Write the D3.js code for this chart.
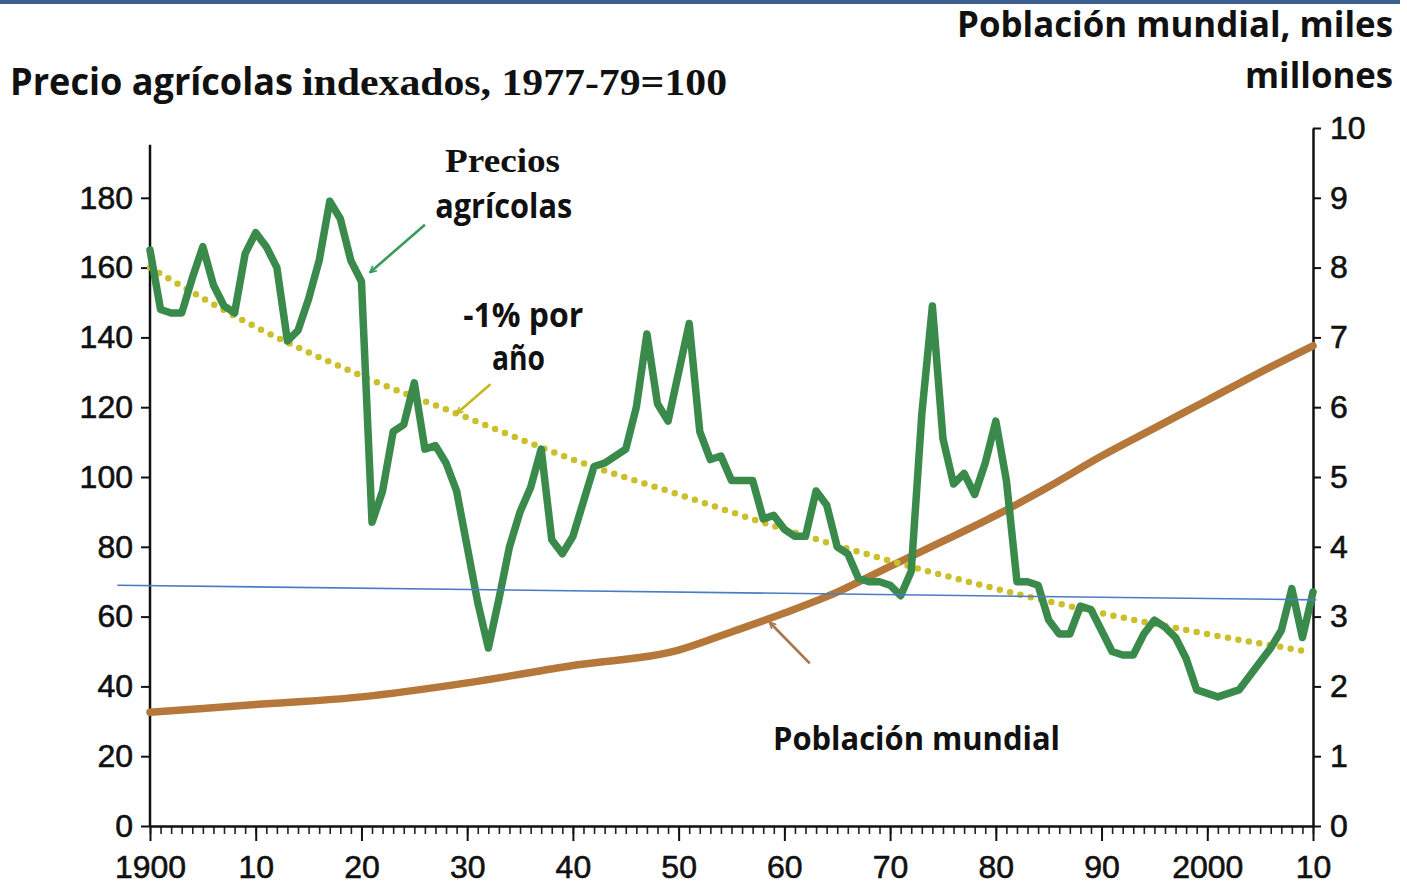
<!DOCTYPE html>
<html>
<head>
<meta charset="utf-8">
<script src="https://cdn.jsdelivr.net/npm/d3@7"></script>
<style>
  html, body { margin: 0; padding: 0; background: #fff; }
  svg { display: block; }
</style>
</head>
<body>
<div id="chart"></div>
<script>
// Agricultural prices, index 1977-79 = 100 (one value per year, 1900-2010)
const priceYears = d3.range(1900, 2011);
const priceValues = [
  165, 148, 147, 147, 157, 166, 155, 149, 147, 164,
  170, 166, 160, 139, 142, 151, 162, 179, 174, 162,
  156, 87, 96, 113, 115, 127, 108, 109, 104, 96,
  80, 64, 51, 65, 80, 90, 97, 108, 82, 78,
  83, 93, 103, 104, 106, 108, 120, 141, 121, 116,
  130, 144, 113, 105, 106, 99, 99, 99, 88, 89,
  85, 83, 83, 96, 92, 80, 78, 71, 70, 70,
  69, 66, 73, 118, 149, 111, 98, 101, 95, 104,
  116, 99, 70, 70, 69, 59, 55, 55, 63, 62,
  56, 50, 49, 49, 55, 59, 57, 54, 48, 39,
  38, 37, 38, 39, 43, 47, 51, 56, 68, 54,
  67
];

// World population, billions (right axis)
const popYears  = [1900, 1910, 1920, 1930, 1940, 1950, 1955, 1960, 1965, 1970, 1975, 1980, 1985, 1990, 1995, 2000, 2005, 2010];
const popValues = [1.63, 1.74, 1.85, 2.05, 2.30, 2.52, 2.78, 3.05, 3.35, 3.72, 4.08, 4.45, 4.86, 5.30, 5.70, 6.10, 6.50, 6.88];

// -1% per year trend (left axis)
const trendYears  = [1900, 1910, 1920, 1930, 1940, 1950, 1960, 1970, 1980, 1990, 2000, 2009.5];
const trendValues = [160, 143, 129, 117, 105, 95, 85, 76, 68, 61, 55, 50];

// Thin blue reference line (left axis)
const refYears  = [1896.9, 2010.3];
const refValues = [69, 64.8];

const leftTicks  = d3.range(0, 181, 20);
const rightTicks = d3.range(0, 11, 1);
const xMajor = d3.range(1900, 2011, 10);
const xMinor = d3.range(1900, 2011, 1);

const width = 1407, height = 884;
const svg = d3.select("#chart").append("svg")
  .attr("width", width).attr("height", height)
  .attr("viewBox", `0 0 ${width} ${height}`);

const x  = d3.scaleLinear().domain([1900, 2010]).range([150, 1313]);
const yL = d3.scaleLinear().domain([0, 200]).range([826, 128]);
const yR = d3.scaleLinear().domain([0, 10]).range([826, 128]);

const sans = "'Liberation Sans', Arial, Helvetica, sans-serif";
const bold = "'Liberation Sans Narrow', 'Open Sans', 'Liberation Sans', sans-serif";
const serif = "'Liberation Serif', 'Times New Roman', serif";

// top rule
svg.append("rect").attr("x", 0).attr("y", 0).attr("width", 1400).attr("height", 4).attr("fill", "#3d5f8f");

// arrow markers
const defs = svg.append("defs");
const marker = (id, color) => defs.append("marker")
  .attr("id", id).attr("viewBox", "0 0 10 10").attr("refX", 9).attr("refY", 5)
  .attr("markerWidth", 8).attr("markerHeight", 8).attr("markerUnits", "userSpaceOnUse")
  .attr("orient", "auto")
  .append("path").attr("d", "M1,1 L9,5 L1,9").attr("fill", "none")
  .attr("stroke", color).attr("stroke-width", 2);
marker("arrGreen", "#3a9a5a");
marker("arrYellow", "#c8b820");
marker("arrBrown", "#a87850");

const styleTicks = (g) => {
  g.selectAll(".tick line").attr("stroke", "#111").attr("stroke-width", 2);
  g.selectAll(".tick text").attr("font-family", sans).attr("font-size", 32)
    .attr("fill", "#111").attr("stroke", "#111").attr("stroke-width", 0.6);
};

// left axis
const left = svg.append("g").attr("transform", `translate(${x(1900)},0)`)
  .call(d3.axisLeft(yL).tickValues(leftTicks).tickSize(9).tickPadding(8).tickSizeOuter(0));
left.select(".domain").remove();
left.append("line").attr("y1", yL(0)).attr("y2", yL(195.2)).attr("stroke", "#111").attr("stroke-width", 2.5);
styleTicks(left);

// right axis
const right = svg.append("g").attr("transform", `translate(${x(2010)},0)`)
  .call(d3.axisRight(yR).tickValues(rightTicks).tickSize(8).tickPadding(9).tickSizeOuter(0));
right.select(".domain").attr("stroke", "#111").attr("stroke-width", 2.5);
styleTicks(right);

// bottom axis: minor yearly ticks + major decade ticks
const bottomMinor = svg.append("g").attr("transform", `translate(0,${yL(0)})`)
  .call(d3.axisBottom(x).tickValues(xMinor).tickSize(8).tickFormat("").tickSizeOuter(0));
bottomMinor.select(".domain").remove();
bottomMinor.selectAll(".tick line").attr("stroke", "#222").attr("stroke-width", 1.6);

const bottom = svg.append("g").attr("transform", `translate(0,${yL(0)})`)
  .call(d3.axisBottom(x).tickValues(xMajor).tickSize(15).tickPadding(14).tickSizeOuter(0)
    .tickFormat((d) => (d === 1900 || d === 2000) ? String(d) : String(d % 100)));
bottom.select(".domain").attr("stroke", "#111").attr("stroke-width", 2.5);
styleTicks(bottom);

// population line
svg.append("path")
  .datum(popYears.map((yr, i) => ({ yr, v: popValues[i] })))
  .attr("fill", "none").attr("stroke", "#b5773a").attr("stroke-width", 7.5)
  .attr("stroke-linecap", "round")
  .attr("d", d3.line().x((d) => x(d.yr)).y((d) => yR(d.v)).curve(d3.curveMonotoneX));

// -1% trend, dotted
svg.append("path")
  .datum(trendYears.map((yr, i) => ({ yr, v: trendValues[i] })))
  .attr("fill", "none").attr("stroke", "#cbc02c").attr("stroke-width", 6.5)
  .attr("stroke-linecap", "round").attr("stroke-dasharray", "0 10.6")
  .attr("d", d3.line().x((d) => x(d.yr)).y((d) => yL(d.v)).curve(d3.curveMonotoneX));

// price line
svg.append("path")
  .datum(priceYears.map((yr, i) => ({ yr, v: priceValues[i] })))
  .attr("fill", "none").attr("stroke", "#3a8a4c").attr("stroke-width", 7.5)
  .attr("stroke-linejoin", "round").attr("stroke-linecap", "round")
  .attr("d", d3.line().x((d) => x(d.yr)).y((d) => yL(d.v)));

// thin blue reference line
svg.append("path")
  .datum(refYears.map((yr, i) => ({ yr, v: refValues[i] })))
  .attr("fill", "none").attr("stroke", "#4a7cc4").attr("stroke-width", 1.6)
  .attr("d", d3.line().x((d) => x(d.yr)).y((d) => yL(d.v)));

// annotation arrows (year, left-axis value)
const arrows = [
  { from: [1926.0, 172.3], to: [1920.8, 158.6], color: "#3a9a5a", m: "arrGreen", w: 2.6 },
  { from: [1932.2, 126.6], to: [1929.0, 118.2], color: "#c8b820", m: "arrYellow", w: 2.6 },
  { from: [1962.4, 46.6],  to: [1958.6, 58.4],  color: "#a87850", m: "arrBrown", w: 2.8 }
];
svg.append("g").selectAll("line").data(arrows).join("line")
  .attr("x1", (d) => x(d.from[0])).attr("y1", (d) => yL(d.from[1]))
  .attr("x2", (d) => x(d.to[0])).attr("y2", (d) => yL(d.to[1]))
  .attr("stroke", (d) => d.color).attr("stroke-width", (d) => d.w)
  .attr("marker-end", (d) => `url(#${d.m})`);

// annotation labels (year, left-axis value of baseline)
const labels = [
  { text: "Precios", at: [1933.35, 187.4], font: serif, size: 33, len: 115 },
  { text: "agrícolas", at: [1933.45, 174.3], font: bold, size: 34, len: 137 },
  { text: "-1% por", at: [1935.3, 143.0], font: bold, size: 34, len: 120 },
  { text: "año", at: [1934.85, 130.7], font: bold, size: 34, len: 53 },
  { text: "Población mundial", at: [1972.5, 21.8], font: bold, size: 33, len: 287 }
];
svg.append("g").selectAll("text").data(labels).join("text")
  .attr("x", (d) => x(d.at[0])).attr("y", (d) => yL(d.at[1]))
  .attr("text-anchor", "middle").attr("font-family", (d) => d.font)
  .attr("font-weight", "bold").attr("font-size", (d) => d.size)
  .attr("textLength", (d) => d.len).attr("lengthAdjust", "spacingAndGlyphs")
  .attr("fill", "#111").text((d) => d.text);

// axis titles
svg.append("text").attr("x", 10).attr("y", 95).attr("font-family", bold).attr("font-weight", "bold")
  .attr("font-size", 37).attr("textLength", 283).attr("lengthAdjust", "spacingAndGlyphs")
  .attr("fill", "#111").text("Precio agrícolas");
svg.append("text").attr("x", 302).attr("y", 95).attr("font-family", serif).attr("font-weight", "bold")
  .attr("font-size", 38).attr("textLength", 425).attr("lengthAdjust", "spacingAndGlyphs")
  .attr("fill", "#111").text("indexados, 1977-79=100");

svg.append("text").attr("x", 1393).attr("y", 37).attr("text-anchor", "end")
  .attr("font-family", bold).attr("font-weight", "bold").attr("font-size", 36)
  .attr("textLength", 436).attr("lengthAdjust", "spacingAndGlyphs")
  .attr("fill", "#111").text("Población mundial, miles");
svg.append("text").attr("x", 1393).attr("y", 88).attr("text-anchor", "end")
  .attr("font-family", bold).attr("font-weight", "bold").attr("font-size", 36)
  .attr("textLength", 148).attr("lengthAdjust", "spacingAndGlyphs")
  .attr("fill", "#111").text("millones");
</script>
</body>
</html>
